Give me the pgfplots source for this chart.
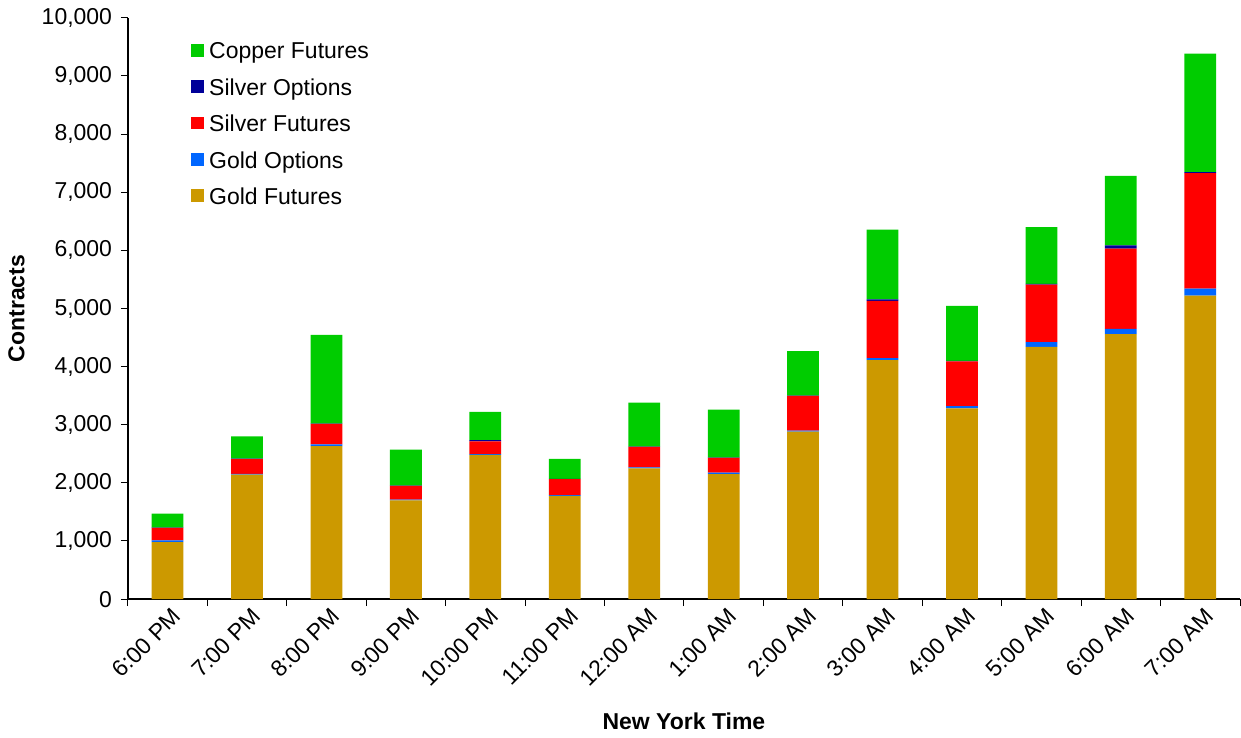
\documentclass[border=0pt]{standalone}
\usepackage{pgfplots}
\pgfplotsset{compat=1.18}
\usepackage{fontspec}
\setmainfont{Liberation Sans}
\definecolor{goldfut}{HTML}{CC9900}
\definecolor{goldopt}{HTML}{0066FF}
\definecolor{silvfut}{HTML}{FF0000}
\definecolor{silvopt}{HTML}{000099}
\definecolor{copfut}{HTML}{00CC00}
\begin{document}
\begin{tikzpicture}
\begin{axis}[
    scale only axis,
    width=15.65cm, height=8.18cm,
    ybar stacked, bar width=0.4,
    xmin=-0.5, xmax=13.5, ymin=0, ymax=10000,
    xtick={0,...,13},
    xticklabels={6:00 PM,7:00 PM,8:00 PM,9:00 PM,10:00 PM,11:00 PM,12:00 AM,1:00 AM,2:00 AM,3:00 AM,4:00 AM,5:00 AM,6:00 AM,7:00 AM},
    minor xtick={-0.5,0.5,...,13.5},
    major x tick style={draw=none},
    ytick={0,1000,...,10000},
    tick align=outside, tick pos=left,
    major tick length=2.8pt, minor tick length=2.8pt,
    tick style={black, thin},
    axis x line*=bottom, axis y line*=left,
    axis line style={black, thick},
    x tick label style={rotate=45, anchor=north east, inner sep=1pt, xshift=2pt},
    y tick label style={/pgf/number format/.cd, 1000 sep={,}, assume math mode=true},
    scaled y ticks=false,
    tick label style={font=\fontsize{9.2}{11}\selectfont},
    xlabel={\textbf{New York Time}},
    ylabel={\textbf{Contracts}},
    label style={font=\fontsize{9.2}{11}\selectfont},
    xlabel style={yshift=-5pt},
    ylabel style={yshift=0pt},
    legend style={draw=none, at={(0.05,0.975)}, anchor=north west,
        font=\fontsize{9.2}{11}\selectfont, row sep=2.4pt, fill=none,
        legend cell align=left},
    legend image code/.code={\fill[#1] (0cm,-0.06cm) rectangle (0.18cm,0.12cm);},
    reverse legend,
]
\addplot[fill=goldfut, draw=none] coordinates {
 (0,980)(1,2140)(2,2630)(3,1700)(4,2480)(5,1775)(6,2250)(7,2150)(8,2880)(9,4110)(10,3280)(11,4340)(12,4560)(13,5220)};
\addlegendentry{Gold Futures}
\addplot[fill=goldopt, draw=none] coordinates {
 (0,30)(1,15)(2,30)(3,10)(4,15)(5,15)(6,15)(7,25)(8,20)(9,35)(10,40)(11,80)(12,90)(13,120)};
\addlegendentry{Gold Options}
\addplot[fill=silvfut, draw=none] coordinates {
 (0,215)(1,255)(2,355)(3,240)(4,220)(5,275)(6,355)(7,255)(8,595)(9,985)(10,770)(11,990)(12,1380)(13,1990)};
\addlegendentry{Silver Futures}
\addplot[fill=silvopt, draw=none] coordinates {
 (0,5)(1,5)(2,5)(3,3)(4,20)(5,3)(6,5)(7,5)(8,5)(9,25)(10,10)(11,15)(12,55)(13,15)};
\addlegendentry{Silver Options}
\addplot[fill=copfut, draw=none] coordinates {
 (0,240)(1,385)(2,1525)(3,620)(4,485)(5,345)(6,755)(7,825)(8,765)(9,1200)(10,945)(11,975)(12,1195)(13,2040)};
\addlegendentry{Copper Futures}
\end{axis}
\end{tikzpicture}
\end{document}
